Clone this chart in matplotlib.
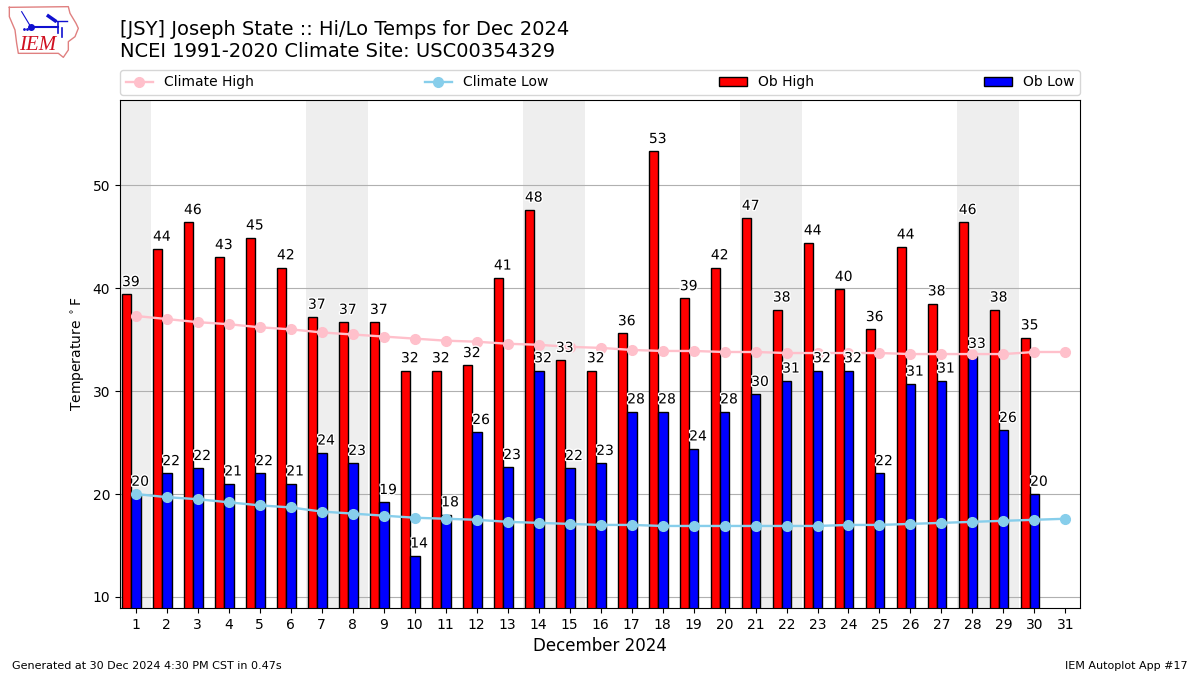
import matplotlib
matplotlib.use("Agg")
import matplotlib.pyplot as plt
import matplotlib.patheffects as pe
import numpy as np

days = list(range(1, 32))
ob_days = list(range(1, 31))
ob_high = [39.4, 43.8, 46.4, 43.0, 44.9, 42.0, 37.2, 36.7, 36.7, 32.0, 32.0, 32.5, 41.0, 47.6, 33.0,
           32.0, 35.6, 53.3, 39.0, 42.0, 46.8, 37.9, 44.4, 39.9, 36.0, 44.0, 38.5, 46.4, 37.9, 35.2]
ob_low = [20.0, 22.0, 22.5, 21.0, 22.0, 21.0, 24.0, 23.0, 19.2, 14.0, 18.0, 26.0, 22.6, 32.0, 22.5,
          23.0, 28.0, 28.0, 24.4, 28.0, 29.7, 31.0, 32.0, 32.0, 22.0, 30.7, 31.0, 33.4, 26.2, 20.0]
high_labels = [39, 44, 46, 43, 45, 42, 37, 37, 37, 32, 32, 32, 41, 48, 33,
               32, 36, 53, 39, 42, 47, 38, 44, 40, 36, 44, 38, 46, 38, 35]
low_labels = [20, 22, 22, 21, 22, 21, 24, 23, 19, 14, 18, 26, 23, 32, 22,
              23, 28, 28, 24, 28, 30, 31, 32, 32, 22, 31, 31, 33, 26, 20]
climate_high = [37.3, 37.0, 36.7, 36.5, 36.2, 36.0, 35.7, 35.5, 35.3, 35.1, 34.9, 34.8, 34.6, 34.5, 34.3, 34.2,
                34.0, 33.9, 33.9, 33.8, 33.8, 33.7, 33.7, 33.7, 33.7, 33.6, 33.6, 33.6, 33.6, 33.8, 33.8]
climate_low = [20.0, 19.7, 19.5, 19.2, 18.9, 18.7, 18.3, 18.1, 17.9, 17.7, 17.6, 17.5, 17.3, 17.2, 17.1, 17.0,
               17.0, 16.9, 16.9, 16.9, 16.9, 16.9, 16.9, 17.0, 17.0, 17.1, 17.2, 17.3, 17.4, 17.5, 17.6]
weekend_spans = [(0.5, 1.5), (6.5, 8.5), (13.5, 15.5), (20.5, 22.5), (27.5, 29.5)]
yticks = [10, 20, 30, 40, 50]

fig = plt.figure(figsize=(12, 6.75), dpi=100)
ax = fig.add_axes([120 / 1200, 1 - 608 / 675, 960 / 1200, 508 / 675])
ax.set_axisbelow(True)

for a, b in weekend_spans:
    ax.axvspan(a, b, color="#eeeeee", lw=0, zorder=0)
ax.yaxis.grid(True, color="#b0b0b0", lw=0.8, zorder=1)

x = np.array(ob_days, dtype=float)
W = 0.3
hi_left = x - 0.44
lo_left = x - 0.14
b1 = ax.bar(hi_left, ob_high, W, align="edge", color="red", edgecolor="k", lw=1, zorder=2, label="Ob High")
b2 = ax.bar(lo_left, ob_low, W, align="edge", color="blue", edgecolor="k", lw=1, zorder=2, label="Ob Low")
l1, = ax.plot(days, climate_high, color="pink", marker="o", ms=7, lw=1.7, zorder=3, label="Climate High")
l2, = ax.plot(days, climate_low, color="skyblue", marker="o", ms=7, lw=1.7, zorder=3, label="Climate Low")

halo = [pe.withStroke(linewidth=2, foreground="white")]
for xs, vals, labs in ((hi_left, ob_high, high_labels), (lo_left, ob_low, low_labels)):
    for xi, v, lab in zip(xs, vals, labs):
        ax.annotate(str(lab), (xi, v), xytext=(0, 3.8), textcoords="offset points", ha="left", va="bottom",
                    fontsize=10, zorder=4, path_effects=halo)

ax.set_xlim(0.494, 31.47)
ax.set_ylim(8.93, 58.28)
ax.set_xticks(days)
ax.set_yticks(yticks)
ax.tick_params(labelsize=10)
ax.set_xlabel("December 2024", fontsize=12)
ax.set_ylabel(r"Temperature $^\circ$F", fontsize=10)

ax.legend([l1, l2, b1, b2], ["Climate High", "Climate Low", "Ob High", "Ob Low"],
          loc="lower left", bbox_to_anchor=(0, 1 + 5 / 508, 1, 0.05), mode="expand", ncol=4,
          borderaxespad=0, fontsize=10)

fig.text(120 / 1200, 1 - 29.5 / 675, "[JSY] Joseph State :: Hi/Lo Temps for Dec 2024", fontsize=14, va="center", ha="left")
fig.text(120 / 1200, 1 - 51.5 / 675, "NCEI 1991-2020 Climate Site: USC00354329", fontsize=14, va="center", ha="left")
fig.text(12 / 1200, 1 - 666 / 675, "Generated at 30 Dec 2024 4:30 PM CST in 0.47s", fontsize=8, va="center", ha="left")
fig.text(1188 / 1200, 1 - 666 / 675, "IEM Autoplot App #17", fontsize=8, va="center", ha="right")

# logo
lg = fig.add_axes([0, 1 - 60 / 675, 80 / 1200, 60 / 675])
lg.set_xlim(0, 240)
lg.set_ylim(180, 0)
lg.axis("off")
ox = [28, 205, 210, 228, 235, 225, 205, 205, 190, 175, 55, 50, 45, 28, 28]
oy = [22, 20, 40, 70, 85, 110, 125, 150, 172, 160, 160, 130, 90, 50, 22]
lg.plot(ox, oy, color="#e08080", lw=1)
lg.plot([90, 175], [80, 80], color="#1010d0", lw=1.5)
lg.plot([175, 175], [65, 100], color="#1010d0", lw=1.2)
lg.plot([185, 185], [85, 112], color="#1010d0", lw=1.2)
lg.plot([145, 165], [48, 62], color="#1010d0", lw=2.5)
lg.plot([165, 200], [62, 62], color="#1010d0", lw=1)
lg.plot([65, 92], [35, 80], color="#1010d0", lw=0.8)
lg.plot([93], [80], marker="o", ms=4, color="#1010d0")
lg.plot([72, 80], [86, 86], ls="none", marker=".", ms=2, color="#1010d0")
lg.text(112, 135, "IEM", color="#d01020", fontsize=15, family="Liberation Serif", style="italic", ha="center", va="center")

fig.savefig("out.png", dpi=100)
